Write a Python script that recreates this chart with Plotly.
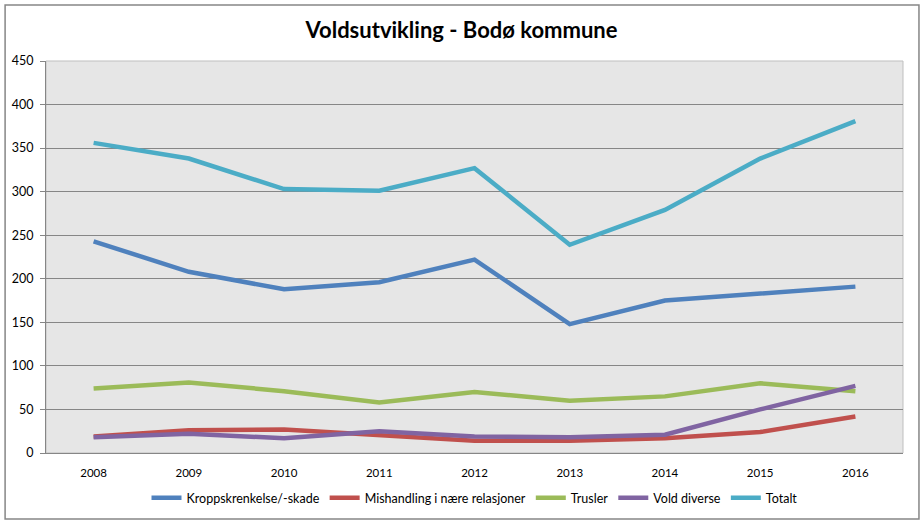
import plotly.graph_objects as go

years = ["2008", "2009", "2010", "2011", "2012", "2013", "2014", "2015", "2016"]
kropp = [243, 208, 188, 196, 222, 148, 175, 183, 191]
mishandling = [19, 26, 27, 21, 14, 14, 17, 24, 42]
trusler = [74, 81, 71, 58, 70, 60, 65, 80, 71]
vold = [18, 22, 17, 25, 19, 18, 21, 50, 77]
totalt = [356, 338, 303, 301, 327, 239, 279, 338, 381]

series = [
    ("Kroppskrenkelse/-skade", kropp, "#4F81BD"),
    ("Mishandling i nære relasjoner", mishandling, "#C0504D"),
    ("Trusler", trusler, "#9BBB59"),
    ("Vold diverse", vold, "#8064A2"),
    ("Totalt", totalt, "#4BACC6"),
]

fig = go.Figure()
for name, vals, color in series:
    fig.add_trace(go.Scatter(x=years, y=vals, name=name, mode="lines",
                             line=dict(color=color, width=4.5)))

W, H = 923, 526
l, r, t, b = 44, W - 903, 61, H - 453
pw, ph = W - l - r, H - t - b

def px(x):
    return (x - l) / pw

def py(y):
    return (H - b - y) / ph

fig.update_layout(
    width=W, height=H,
    margin=dict(l=l, r=r, t=t, b=b),
    paper_bgcolor="white",
    plot_bgcolor="#E6E6E6",
    font=dict(family="Lato, Noto Sans, sans-serif", size=12, color="#000000"),
    title=dict(text="<b>Voldsutvikling - Bodø kommune</b>", x=0.5, xanchor="center",
               y=1 - 30 / H, yanchor="middle",
               font=dict(size=22, family="Lato, Noto Sans, sans-serif", color="#000000")),
    xaxis=dict(type="category", range=[-0.5, 8.5], showgrid=False,
               showline=True, linecolor="#868686", linewidth=1, mirror=False,
               ticks="", tickfont=dict(size=11.5), ticklabelstandoff=9),
    yaxis=dict(range=[0, 450], dtick=50, showgrid=True, gridcolor="#868686", gridwidth=1,
               showline=True, linecolor="#868686", linewidth=1,
               ticks="outside", ticklen=5, tickcolor="#868686", ticklabelstandoff=4,
               tickfont=dict(size=12.5), zeroline=False),
    legend=dict(orientation="h", x=0.5, xanchor="center", y=py(498), yanchor="middle",
                font=dict(size=12.5), itemwidth=30, tracegroupgap=0),
    showlegend=True,
)

# plot area border and outer chart border
fig.add_shape(type="rect", xref="paper", yref="paper", x0=0, x1=1, y0=0, y1=1,
              line=dict(color="#BFBFBF", width=1), fillcolor="rgba(0,0,0,0)", layer="below")
fig.add_shape(type="rect", xref="paper", yref="paper",
              x0=px(3), x1=px(919), y0=py(519), y1=py(5),
              line=dict(color="#868686", width=1.5), fillcolor="rgba(0,0,0,0)")

fig.write_html("out.html", config={"displayModeBar": False},
               post_script="document.body.style.margin='0';document.body.style.overflow='hidden';")
